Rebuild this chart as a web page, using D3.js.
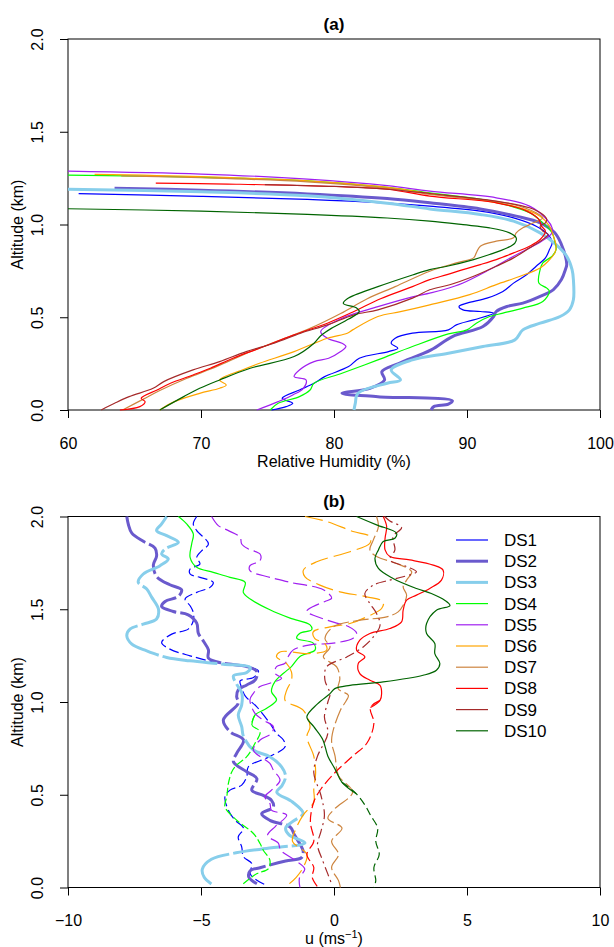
<!DOCTYPE html>
<html>
<head>
<meta charset="utf-8">
<script src="https://cdn.jsdelivr.net/npm/d3@7"></script>
<style>
  body { margin: 0; background: #fff; }
  text { font-family: "Liberation Sans", Arial, Helvetica, sans-serif; }
</style>
</head>
<body>
<svg id="chart" width="614" height="947"></svg>
<script>
// Series names
const seriesNames = ["DS1", "DS2", "DS3", "DS4", "DS5", "DS6", "DS7", "DS8", "DS9", "DS10"];

// Panel (a): [relative humidity %, altitude km], read along each profile
const rhDS1 = [[60.8,1.166],[70,1.152],[78,1.135],[84,1.115],[87.2,1.099],[91.0,1.072],[93.5,1.036],[95.2,0.991],[96.1,0.946],[96.4,0.901],[96.2,0.865],[95.9,0.82],[95.2,0.775],[94.5,0.73],[93.5,0.684],[92.7,0.639],[91.5,0.603],[90.0,0.576],[89.4,0.558],[89.7,0.54],[91.0,0.531],[92.0,0.522],[90.5,0.486],[89.2,0.459],[88.6,0.432],[85.9,0.414],[84.6,0.387],[84.3,0.36],[84.8,0.333],[84.1,0.315],[81.9,0.279],[81.1,0.234],[79.3,0.18],[78.5,0.144],[77.4,0.108],[76.1,0.063],[76.9,0.036],[76.4,0.018],[75.3,0.0]];
const rhDS2 = [[63.5,1.195],[70,1.185],[78,1.165],[84,1.14],[87.2,1.117],[91.0,1.084],[93.7,1.045],[95.5,1.009],[96.6,0.955],[97.1,0.892],[97.4,0.829],[97.5,0.784],[97.4,0.757],[97.1,0.703],[96.5,0.649],[95.5,0.612],[94.2,0.576],[93.0,0.558],[92.2,0.531],[92.0,0.504],[91.2,0.45],[88.9,0.396],[87.3,0.324],[84.9,0.252],[83.6,0.207],[83.8,0.162],[82.7,0.117],[80.6,0.09],[83.3,0.072],[88.9,0.05],[88.6,0.032],[87.5,0.018],[87.3,0.0]];
const rhDS3 = [[60,1.19],[70,1.176],[78,1.155],[84,1.115],[87.2,1.084],[91.0,1.054],[93.5,1.018],[95.5,0.955],[96.7,0.892],[97.5,0.829],[97.9,0.757],[98.0,0.703],[98.0,0.594],[97.7,0.54],[97.0,0.504],[95.5,0.468],[94.2,0.432],[93.6,0.378],[91.2,0.342],[88.6,0.306],[85.9,0.27],[84.3,0.216],[85.0,0.162],[84.0,0.144],[81.8,0.09],[81.6,0.036],[81.5,0.0]];
const rhDS4 = [[60,1.266],[70,1.255],[78,1.235],[84,1.2],[87.2,1.17],[91.5,1.13],[94.7,1.063],[95.7,1.009],[96.4,0.955],[96.6,0.91],[96.7,0.865],[96.4,0.829],[95.7,0.793],[95.5,0.757],[95.4,0.685],[96.0,0.657],[96.2,0.639],[95.7,0.585],[94.2,0.549],[92.7,0.522],[91.7,0.504],[90.7,0.468],[90.0,0.432],[88.6,0.41],[85.9,0.342],[83.3,0.27],[80.6,0.198],[78.5,0.144],[78.2,0.108],[77.4,0.072],[75.8,0.036],[75.2,0.0]];
const rhDS5 = [[60,1.288],[70,1.272],[78,1.245],[84,1.21],[87.2,1.18],[92.2,1.144],[94.7,1.099],[96.0,1.027],[96.4,0.982],[96.4,0.955],[96.0,0.928],[95.2,0.892],[93.5,0.829],[91.7,0.757],[89.7,0.685],[88.2,0.648],[87.2,0.63],[85.9,0.61],[83.3,0.557],[80.6,0.495],[79.0,0.423],[79.5,0.387],[80.6,0.36],[80.9,0.342],[80.5,0.315],[79.6,0.279],[78.5,0.261],[77.4,0.216],[77.0,0.18],[77.9,0.162],[77.7,0.117],[76.9,0.081],[75.8,0.045],[74.2,0.0]];
const rhDS6 = [[62,1.27],[70,1.258],[78,1.235],[84,1.2],[87.2,1.167],[93.5,1.099],[95.5,1.045],[96.2,0.991],[96.5,0.937],[96.7,0.883],[96.6,0.847],[96.1,0.802],[95.5,0.766],[94.0,0.721],[92.2,0.676],[90.2,0.622],[87.2,0.567],[85.0,0.53],[83.3,0.504],[81.4,0.432],[81.0,0.414],[79.5,0.387],[77.0,0.315],[74.4,0.252],[73.1,0.216],[71.4,0.162],[71.9,0.135],[71.4,0.117],[69.9,0.09],[68.0,0.045],[66.9,0.0]];
const rhDS7 = [[64,1.262],[70,1.252],[78,1.23],[84,1.195],[87.2,1.162],[93.5,1.108],[95.2,1.063],[95.7,1.036],[95.0,1.009],[94.2,0.982],[93.7,0.955],[93.5,0.928],[92.2,0.91],[91.0,0.883],[90.7,0.847],[90.5,0.82],[89.2,0.793],[87.2,0.748],[84.6,0.665],[82.5,0.6],[80.5,0.52],[78.2,0.44],[75.7,0.37],[73.4,0.305],[71.2,0.235],[68.9,0.17],[66.9,0.105],[65.7,0.06],[64.1,0.0]];
const rhDS8 = [[66.6,1.223],[72,1.218],[78,1.209],[84,1.19],[87.2,1.153],[92.2,1.117],[94.5,1.072],[95.4,1.027],[95.6,0.991],[95.9,0.964],[95.5,0.919],[94.7,0.883],[93.5,0.847],[92.2,0.811],[91.0,0.784],[89.7,0.757],[88.5,0.73],[87.2,0.703],[85.9,0.665],[83.5,0.6],[81.5,0.531],[79.5,0.468],[77.0,0.405],[74.4,0.333],[72.4,0.279],[70.7,0.225],[69.4,0.189],[67.7,0.144],[66.7,0.108],[65.5,0.063],[65.8,0.045],[65.4,0.018],[63.9,0.0]];
const rhDS9 = [[74.8,1.215],[80,1.205],[84,1.19],[87.2,1.167],[92.2,1.126],[94.7,1.09],[95.7,1.054],[96.0,1.027],[95.9,1.009],[95.5,0.991],[95.7,0.964],[96.1,0.946],[95.7,0.919],[94.7,0.874],[93.5,0.82],[92.2,0.775],[90.5,0.721],[88.7,0.675],[87.2,0.648],[85.9,0.603],[83.3,0.54],[81.5,0.513],[79.5,0.459],[77.5,0.414],[75.5,0.36],[73.4,0.315],[71.4,0.261],[69.4,0.216],[67.2,0.153],[66.4,0.117],[64.6,0.072],[63.5,0.036],[62.5,0.0]];
const rhDS10 = [[60,1.085],[70,1.072],[78,1.055],[84,1.035],[87.2,1.018],[89.7,0.999],[91.7,0.982],[93.2,0.955],[93.7,0.928],[93.6,0.9],[93.0,0.873],[91.7,0.838],[90.5,0.811],[88.5,0.775],[87.2,0.757],[85.9,0.728],[83.3,0.665],[81.0,0.6],[80.7,0.575],[81.7,0.55],[81.9,0.53],[81.1,0.49],[79.8,0.44],[79.0,0.4],[78.5,0.36],[77.0,0.288],[73.7,0.225],[71.4,0.162],[69.9,0.117],[68.7,0.072],[66.9,0.0]];

// Panel (b): [u m/s, altitude km]
const uDS1 = [[-5.16,2.0],[-5.29,1.96],[-5.16,1.924],[-4.72,1.852],[-4.97,1.816],[-5.16,1.78],[-5.04,1.744],[-5.41,1.717],[-5.41,1.69],[-5.04,1.672],[-4.54,1.645],[-4.66,1.618],[-5.16,1.591],[-5.6,1.555],[-5.41,1.519],[-5.29,1.483],[-5.29,1.438],[-5.48,1.393],[-6.1,1.366],[-6.48,1.321],[-6.17,1.285],[-5.41,1.249],[-4.41,1.213],[-3.41,1.195],[-2.84,1.168],[-3.03,1.132],[-3.53,1.114],[-3.47,1.078],[-3.34,1.033],[-2.91,0.975],[-2.41,0.885],[-2.16,0.831],[-1.9,0.795],[-1.84,0.759],[-2.5,0.7],[-3.22,0.651],[-3.28,0.597],[-3.47,0.552],[-3.91,0.525],[-4.1,0.489],[-3.97,0.417],[-3.72,0.363],[-3.4,0.318],[-3.6,0.273],[-3.47,0.219],[-3.4,0.165],[-3.09,0.129],[-3.15,0.075],[-2.9,0.039],[-2.53,0.012]];
const uDS2 = [[-7.79,2.0],[-7.73,1.957],[-7.6,1.91],[-7.17,1.866],[-6.73,1.83],[-6.67,1.786],[-6.79,1.74],[-6.67,1.677],[-6.17,1.632],[-5.73,1.605],[-5.85,1.569],[-6.35,1.542],[-6.48,1.515],[-6.04,1.488],[-5.48,1.47],[-5.16,1.425],[-5.1,1.371],[-4.9,1.326],[-4.72,1.281],[-4.72,1.236],[-4.16,1.209],[-3.28,1.191],[-2.9,1.164],[-2.96,1.119],[-3.28,1.092],[-3.6,1.065],[-3.66,1.029],[-3.6,0.993],[-4.16,0.903],[-3.91,0.84],[-3.4,0.795],[-3.66,0.723],[-3.78,0.678],[-3.28,0.624],[-2.9,0.587],[-3.09,0.524],[-2.66,0.497],[-2.35,0.47],[-2.28,0.434],[-2.72,0.398],[-2.41,0.362],[-1.65,0.326],[-1.49,0.284],[-1.16,0.196],[-1.22,0.161],[-1.82,0.143],[-2.75,0.108],[-3.15,0.09],[-3.2,0.055],[-2.9,0.02]];
const uDS3 = [[-6.29,2.0],[-6.48,1.96],[-6.67,1.924],[-6.29,1.897],[-5.85,1.861],[-6.35,1.825],[-6.48,1.798],[-6.23,1.771],[-6.54,1.735],[-7.17,1.69],[-7.36,1.645],[-7.04,1.609],[-6.85,1.564],[-6.6,1.501],[-6.67,1.447],[-7.17,1.42],[-7.67,1.393],[-7.79,1.357],[-7.6,1.312],[-7.04,1.276],[-6.29,1.24],[-5.41,1.222],[-4.16,1.204],[-3.15,1.186],[-3.28,1.159],[-3.78,1.141],[-3.66,1.096],[-3.47,1.051],[-3.47,0.984],[-3.6,0.93],[-3.47,0.867],[-3.4,0.813],[-3.03,0.741],[-2.41,0.705],[-1.97,0.65],[-1.82,0.6],[-1.95,0.55],[-2.15,0.514],[-1.56,0.461],[-1.16,0.399],[-1.56,0.355],[-1.82,0.32],[-1.69,0.284],[-1.09,0.24],[-2.35,0.214],[-3.68,0.187],[-4.61,0.152],[-4.95,0.099],[-4.88,0.055],[-4.61,0.019]];
const uDS4 = [[-5.85,2.0],[-5.54,1.96],[-5.29,1.906],[-5.35,1.852],[-5.41,1.78],[-5.16,1.726],[-4.54,1.699],[-3.91,1.672],[-3.34,1.645],[-3.41,1.591],[-3.15,1.555],[-2.41,1.497],[-1.65,1.452],[-0.9,1.416],[-0.84,1.389],[-1.28,1.371],[-1.4,1.344],[-0.78,1.317],[-0.71,1.281],[-1.28,1.245],[-1.6,1.191],[-1.9,1.155],[-2.22,1.11],[-2.35,1.056],[-2.16,1.011],[-2.53,0.966],[-2.97,0.93],[-3.09,0.876],[-2.78,0.84],[-2.97,0.777],[-3.28,0.705],[-3.66,0.66],[-3.84,0.624],[-3.97,0.561],[-4.03,0.489],[-4.1,0.435],[-3.66,0.363],[-3.03,0.291],[-2.78,0.237],[-2.66,0.201],[-2.41,0.147],[-2.47,0.101],[-2.91,0.074],[-3.41,0.02]];
const uDS5 = [[-4.6,2.0],[-4.35,1.951],[-3.97,1.924],[-3.53,1.888],[-3.47,1.852],[-3.22,1.825],[-2.78,1.798],[-2.78,1.762],[-3.16,1.735],[-3.16,1.708],[-2.41,1.672],[-1.65,1.645],[-0.4,1.605],[-0.09,1.56],[-0.34,1.542],[-0.78,1.515],[-1.03,1.488],[-0.65,1.461],[0.1,1.425],[0.54,1.407],[0.85,1.371],[0.72,1.344],[-0.03,1.317],[-0.9,1.308],[-1.53,1.281],[-1.72,1.245],[-1.84,1.209],[-2.16,1.191],[-2.22,1.155],[-1.97,1.128],[-2.41,1.101],[-2.78,1.083],[-3.03,1.047],[-3.16,1.011],[-2.97,0.939],[-2.66,0.903],[-2.28,0.867],[-2.35,0.831],[-2.78,0.795],[-3.03,0.741],[-2.41,0.669],[-2.28,0.633],[-2.03,0.579],[-2.35,0.525],[-2.6,0.489],[-2.41,0.453],[-2.35,0.417],[-1.78,0.39],[-2.2,0.33],[-2.5,0.28],[-2.1,0.24],[-2.0,0.2],[-1.5,0.15],[-1.1,0.1],[-1.3,0.05],[-1.28,0.0]];
const uDS6 = [[-1.09,2.0],[-0.28,1.973],[0.72,1.919],[1.35,1.892],[1.35,1.856],[0.6,1.81],[-0.65,1.756],[-1.15,1.711],[-1.09,1.675],[-0.53,1.63],[0.22,1.594],[1.23,1.567],[1.85,1.54],[1.79,1.504],[1.23,1.459],[0.6,1.423],[-0.15,1.405],[-0.78,1.378],[-0.72,1.342],[-0.34,1.315],[-0.28,1.279],[-0.97,1.261],[-2.03,1.27],[-2.16,1.243],[-1.78,1.207],[-1.6,1.162],[-1.6,1.117],[-1.78,1.063],[-1.84,1.009],[-1.16,0.956],[-0.9,0.867],[-1.02,0.814],[-0.76,0.708],[-0.69,0.62],[-0.76,0.531],[-0.76,0.461],[-1.16,0.39],[-1.42,0.32],[-1.56,0.249],[-1.02,0.178],[-1.16,0.108],[-1.42,0.055],[-1.69,0.019]];
const uDS7 = [[1.6,2.0],[1.67,1.946],[1.48,1.874],[1.35,1.82],[1.6,1.784],[2.35,1.747],[2.92,1.702],[2.73,1.657],[2.6,1.621],[2.73,1.576],[2.6,1.522],[2.41,1.486],[1.98,1.459],[0.98,1.441],[-0.03,1.405],[-0.34,1.342],[-0.15,1.297],[-0.4,1.243],[0.1,1.189],[0.22,1.126],[0.16,1.072],[0.54,1.036],[0.47,1.009],[0.24,0.956],[-0.09,0.797],[0.04,0.708],[0.17,0.603],[0.7,0.514],[0.04,0.426],[-0.23,0.373],[0.3,0.32],[-0.09,0.249],[0.17,0.178],[-0.09,0.108],[0.17,0.037],[0.24,0.0]];
const uDS8 = [[1.85,2.0],[1.98,1.946],[1.92,1.883],[1.92,1.82],[2.1,1.784],[2.85,1.766],[3.73,1.738],[4.1,1.711],[4.04,1.657],[3.6,1.612],[3.1,1.576],[2.73,1.549],[2.6,1.495],[2.54,1.432],[2.1,1.396],[1.35,1.369],[0.97,1.333],[0.85,1.279],[1.16,1.243],[0.91,1.207],[0.97,1.153],[1.35,1.117],[1.73,1.09],[1.79,1.045],[1.73,1.009],[1.37,0.97],[1.5,0.885],[1.24,0.779],[0.7,0.708],[0.04,0.62],[-0.49,0.531],[-0.76,0.461],[-0.89,0.355],[-0.76,0.249],[-1.02,0.178],[-0.76,0.108],[-0.82,0.055],[-0.6,0.0]];
const uDS9 = [[1.9,2.0],[2.1,1.976],[2.54,1.94],[2.22,1.892],[2.29,1.82],[2.1,1.766],[2.73,1.73],[3.1,1.702],[2.6,1.675],[2.1,1.657],[1.48,1.63],[1.16,1.585],[1.35,1.531],[1.6,1.477],[1.73,1.414],[1.48,1.351],[1.1,1.297],[0.48,1.243],[-0.28,1.189],[-0.34,1.117],[-0.15,1.045],[-0.23,1.0],[-0.36,0.92],[-0.23,0.832],[-0.62,0.708],[-0.76,0.62],[-0.49,0.496],[-0.36,0.39],[-0.49,0.302],[-0.62,0.231],[-0.42,0.143],[-0.23,0.072],[-0.09,0.019]];
const uDS10 = [[0.85,2.0],[1.6,1.955],[2.35,1.91],[2.29,1.883],[1.85,1.865],[1.67,1.82],[1.54,1.775],[1.67,1.72],[2.22,1.666],[3.1,1.612],[3.66,1.585],[4.16,1.549],[4.36,1.52],[3.85,1.495],[3.48,1.423],[3.48,1.369],[3.79,1.315],[3.79,1.261],[3.98,1.207],[3.85,1.171],[3.35,1.144],[1.85,1.108],[0.6,1.09],[0.03,1.072],[-0.15,1.045],[-0.62,0.99],[-1.02,0.92],[-0.76,0.867],[-0.42,0.797],[-0.23,0.708],[0.04,0.638],[0.3,0.567],[0.84,0.505],[1.17,0.443],[1.37,0.39],[1.64,0.32],[1.57,0.249],[1.7,0.178],[1.5,0.108],[1.57,0.037],[1.5,0.0]];

const rhProfiles = [rhDS1, rhDS2, rhDS3, rhDS4, rhDS5, rhDS6, rhDS7, rhDS8, rhDS9, rhDS10];
const uProfiles = [uDS1, uDS2, uDS3, uDS4, uDS5, uDS6, uDS7, uDS8, uDS9, uDS10];

// Tick values
const rhTicks = [60, 70, 80, 90, 100];
const uTicks = [-10, -5, 0, 5, 10];
const altTicks = [0, 0.5, 1, 1.5, 2];

// Styles
const colors = ["#0000FF", "#6A5ACD", "#87CEEB", "#00FF00", "#A020F0", "#FFA500", "#CD853F", "#FF0000", "#A52A2A", "#006400"];
const widths = [1.2, 3, 3, 1.2, 1.2, 1.2, 1.2, 1.2, 1.2, 1.2];
// dash pattern for panel (b); solidAbove = altitude above which the line is drawn solid
const dashes = ["10,4", "34,4", "55,4", "8,3", "14,5", "18,6", "16,4", "10,4", "10,4,2,4", "8,4"];
const solidAbove = [null, null, null, 0.9, null, null, null, 1.0, null, 0.55];

const svg = d3.select("#chart");
const fontSize = 16;

function drawPanel(cfg) {
  const x = d3.scaleLinear().domain(cfg.xDomain).range([68, 600]);
  const y = d3.scaleLinear().domain([0, 2]).range([cfg.bottom, cfg.bottom - 371]);
  const g = svg.append("g");

  // Box
  g.append("rect")
    .attr("x", 68).attr("y", y(2))
    .attr("width", 532).attr("height", y(0) - y(2))
    .attr("fill", "none").attr("stroke", "#000").attr("stroke-width", 1);

  // X axis
  const xa = g.append("g")
    .attr("transform", `translate(0,${y(0)})`)
    .call(d3.axisBottom(x).tickValues(cfg.xTicks).tickSize(8));
  xa.select(".domain").remove();
  xa.selectAll("text")
    .attr("y", 33).attr("dy", "0.35em")
    .attr("font-size", fontSize).attr("font-family", "Liberation Sans, Arial, sans-serif")
    .attr("fill", "#000");

  // Y axis with rotated labels
  const ya = g.append("g")
    .attr("transform", "translate(68,0)")
    .call(d3.axisLeft(y).tickValues(altTicks).tickSize(8).tickFormat(d3.format(".1f")));
  ya.select(".domain").remove();
  ya.selectAll("text")
    .attr("x", 0).attr("y", 0).attr("dy", "0.35em")
    .attr("text-anchor", "middle")
    .attr("transform", "translate(-31,0) rotate(-90)")
    .attr("font-size", fontSize).attr("font-family", "Liberation Sans, Arial, sans-serif")
    .attr("fill", "#000");

  // Titles
  g.append("text")
    .attr("x", 334).attr("y", y(2) - 15)
    .attr("text-anchor", "middle").attr("dy", "0.35em")
    .attr("font-size", 17).attr("font-weight", "bold")
    .text(cfg.title);

  const xl = g.append("text")
    .attr("x", 334).attr("y", y(0) + 51)
    .attr("text-anchor", "middle").attr("dy", "0.35em")
    .attr("font-size", fontSize);
  cfg.xLabel(xl);

  g.append("text")
    .attr("transform", `translate(17,${(y(0) + y(2)) / 2}) rotate(-90)`)
    .attr("text-anchor", "middle").attr("dy", "0.35em")
    .attr("font-size", fontSize)
    .text("Altitude (km)");

  const line = d3.line()
    .x(d => x(d[0]))
    .y(d => y(d[1]))
    .curve(d3.curveCatmullRom.alpha(0.5));

  cfg.profiles.forEach((pts, i) => {
    const pieces = [];
    if (!cfg.dashed) {
      pieces.push({ pts: pts, dash: null });
    } else if (solidAbove[i] === null) {
      pieces.push({ pts: pts, dash: dashes[i] });
    } else {
      const k = pts.findIndex(p => p[1] < solidAbove[i]);
      pieces.push({ pts: pts.slice(0, k + 1), dash: null });
      pieces.push({ pts: pts.slice(k - 1), dash: dashes[i] });
    }
    pieces.forEach(p => {
      g.append("path")
        .attr("d", line(p.pts))
        .attr("fill", "none")
        .attr("stroke", colors[i])
        .attr("stroke-width", widths[i])
        .attr("stroke-linejoin", "round")
        .attr("stroke-dasharray", p.dash);
    });
  });
  return { g, x, y };
}

drawPanel({
  xDomain: [60, 100], xTicks: rhTicks, bottom: 410, title: "(a)",
  profiles: rhProfiles, dashed: false,
  xLabel: t => t.text("Relative Humidity (%)")
});

const pb = drawPanel({
  xDomain: [-10, 10], xTicks: uTicks, bottom: 887.5, title: "(b)",
  profiles: uProfiles, dashed: true,
  xLabel: t => {
    t.append("tspan").text("u (ms");
    t.append("tspan").attr("baseline-shift", "super").attr("font-size", 11).text("\u22121");
    t.append("tspan").text(")");
  }
});

// Legend (panel b)
const legend = pb.g.append("g");
seriesNames.forEach((name, i) => {
  const ly = 540 + i * 21.2;
  legend.append("line")
    .attr("x1", 456).attr("x2", 488).attr("y1", ly).attr("y2", ly)
    .attr("stroke", colors[i]).attr("stroke-width", widths[i]);
  legend.append("text")
    .attr("x", 504).attr("y", ly).attr("dy", "0.35em")
    .attr("font-size", 17)
    .text(name);
});
</script>
</body>
</html>
